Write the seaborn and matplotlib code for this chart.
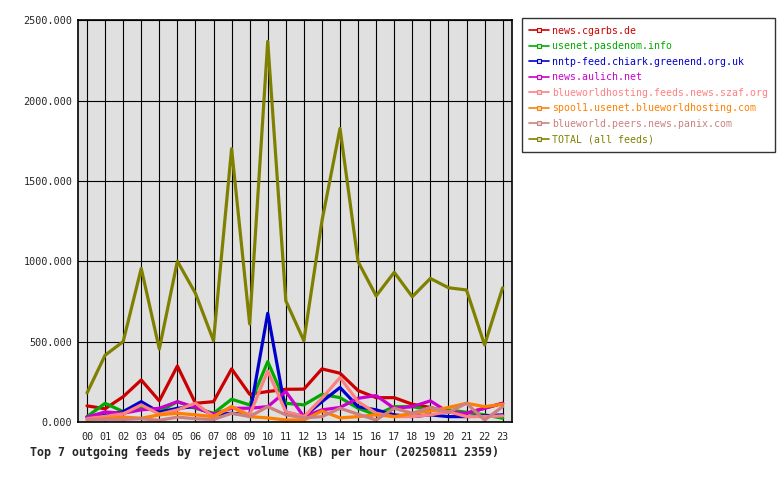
import pandas as pd
import matplotlib
matplotlib.use("Agg")
import matplotlib.pyplot as plt
import seaborn as sns
from matplotlib.lines import Line2D

hours = [f"{h:02d}" for h in range(24)]

feeds = [
    "news.cgarbs.de",
    "usenet.pasdenom.info",
    "nntp-feed.chiark.greenend.org.uk",
    "news.aulich.net",
    "blueworldhosting.feeds.news.szaf.org",
    "spool1.usenet.blueworldhosting.com",
    "blueworld.peers.news.panix.com",
    "TOTAL (all feeds)",
]
colors = ["#cc0000", "#00aa00", "#0000cc", "#cc00cc", "#ff8080", "#ff8000", "#cc8080", "#808000"]

cgarbs = [100, 82, 157, 261, 131, 348, 116, 126, 330, 172, 189, 203,
          204, 330, 303, 195, 151, 151, 110, 90, 60, 55, 85, 116]
pasdenom = [33, 116, 64, 91, 64, 126, 85, 54, 141, 106, 375, 116,
            106, 172, 151, 85, 44, 95, 95, 75, 75, 60, 44, 23]
chiark = [30, 40, 64, 126, 60, 85, 95, 44, 54, 44, 676, 60,
          33, 126, 214, 95, 75, 44, 33, 44, 33, 33, 38, 44]
aulich = [30, 62, 54, 75, 85, 126, 90, 48, 85, 85, 95, 189,
          33, 75, 90, 147, 164, 85, 95, 131, 60, 54, 85, 116]
szaf = [20, 35, 50, 106, 48, 75, 116, 33, 95, 44, 317, 64,
        33, 147, 276, 126, 54, 33, 33, 44, 64, 33, 33, 38]
spool1 = [10, 20, 30, 23, 44, 54, 44, 33, 95, 33, 25, 12,
          12, 68, 25, 33, 44, 33, 54, 68, 90, 116, 95, 110]
panix = [15, 15, 15, 20, 10, 30, 20, 15, 54, 33, 95, 44,
         25, 33, 85, 48, 12, 85, 54, 90, 60, 116, 12, 95]
total = [180, 415, 500, 955, 454, 1000, 800, 505, 1700, 609, 2368, 754,
         505, 1250, 1826, 997, 784, 931, 779, 893, 835, 821, 479, 835]

series = [cgarbs, pasdenom, chiark, aulich, szaf, spool1, panix, total]
rows = []
for name, vals in zip(feeds, series):
    for h, v in enumerate(vals):
        rows.append({"hour": h, "feed": name, "kb": v})
df = pd.DataFrame(rows)

sns.set_theme(style="white")
plt.rcParams["font.family"] = ["DejaVu Sans Mono"]

fig = plt.figure(figsize=(7.8, 4.8), dpi=100)
ax = fig.add_axes([0.1, 0.121, 0.556, 0.837])
ax.set_facecolor("#e0e0e0")

sns.lineplot(data=df, x="hour", y="kb", hue="feed", hue_order=feeds,
             palette=colors, linewidth=2.3, ax=ax, legend=False, sort=False)

ax.set_xlim(-0.5, 23.5)
ax.set_ylim(0, 2500)
ax.set_xticks(range(24))
ax.set_xticklabels(hours, fontsize=7.3)
ax.set_yticks([0, 500, 1000, 1500, 2000, 2500])
ax.set_yticklabels([f"{v:.3f}" for v in [0, 500, 1000, 1500, 2000, 2500]], fontsize=7.3)
ax.grid(True, color="black", linewidth=0.8)
ax.set_axisbelow(True)
for s in ax.spines.values():
    s.set_color("black")
    s.set_linewidth(1.2)
ax.tick_params(axis="x", direction="out", length=5, width=0.8, color="black", pad=2)
ax.tick_params(axis="y", length=0, pad=4)
ax.set_xlabel("Top 7 outgoing feeds by reject volume (KB) per hour (20250811 2359)",
              fontsize=8.4, fontweight="bold")
ax.xaxis.set_label_coords(0.43, -0.06)
ax.set_ylabel("")

handles = [Line2D([0], [0], color=c, lw=1.2, marker="s", ms=3,
                  markerfacecolor="#e0e0e0", markeredgewidth=0.8) for c in colors]
leg = fig.legend(handles, feeds, loc="upper left", bbox_to_anchor=(0.669, 0.962),
                 fontsize=7.1, frameon=True, fancybox=False, handlelength=2.0,
                 handletextpad=0.3, labelspacing=0.56, borderpad=0.75, borderaxespad=0)
leg.get_frame().set_edgecolor("black")
leg.get_frame().set_linewidth(1.0)
for t, c in zip(leg.get_texts(), colors):
    t.set_color(c)

fig.savefig("out.png", dpi=100)
